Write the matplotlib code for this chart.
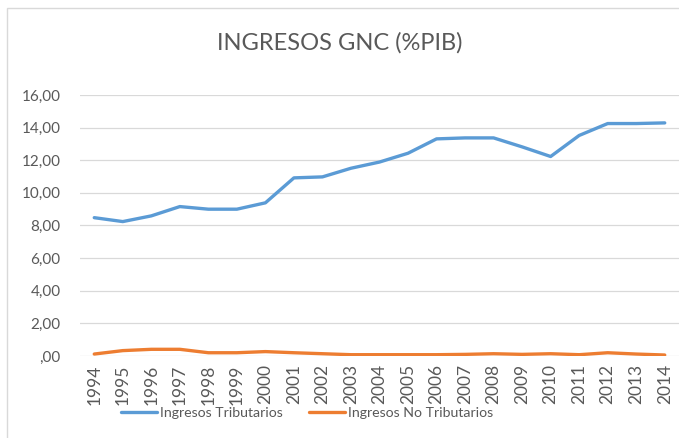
import matplotlib
matplotlib.use('Agg')
from matplotlib import pyplot as plt
from matplotlib.ticker import FuncFormatter
from matplotlib.patches import Rectangle

# Data (% of GDP)
years = ['1994', '1995', '1996', '1997', '1998', '1999', '2000', '2001', '2002', '2003', '2004',
         '2005', '2006', '2007', '2008', '2009', '2010', '2011', '2012', '2013', '2014']
tributarios = [8.48, 8.24, 8.59, 9.16, 9.00, 9.00, 9.39, 10.92, 10.98, 11.51, 11.89,
               12.43, 13.31, 13.37, 13.37, 12.82, 12.23, 13.52, 14.25, 14.25, 14.29]
no_tributarios = [0.12, 0.33, 0.41, 0.41, 0.20, 0.20, 0.27, 0.20, 0.14, 0.08, 0.08,
                  0.08, 0.08, 0.10, 0.14, 0.10, 0.14, 0.08, 0.20, 0.12, 0.06]
labels = ['Ingresos Tributarios', 'Ingresos No Tributarios']
colors = ['#5B9BD5', '#ED7D31']
text_color = '#595959'

plt.rcParams['font.family'] = ['Lato', 'DejaVu Sans']

fig = plt.figure(figsize=(6.79, 4.38), dpi=100)
ax = fig.add_axes([80 / 679, 1 - 356 / 438, 599 / 679, 261 / 438])

x = list(range(len(years)))
ax.plot(x, tributarios, color=colors[0], lw=2.4, label=labels[0], solid_capstyle='round')
ax.plot(x, no_tributarios, color=colors[1], lw=2.4, label=labels[1], solid_capstyle='round')

ax.set_xlim(-0.5, len(years) - 0.5)
ax.set_ylim(0, 16)
ax.set_yticks(range(0, 17, 2))
ax.set_xticks(x)
ax.set_xticklabels(years, rotation=90)


def fmt(v, pos):
    s = '{:.2f}'.format(v).replace('.', ',')
    if s.startswith('0,'):
        s = s[1:]
    return s


ax.yaxis.set_major_formatter(FuncFormatter(fmt))
ax.grid(axis='y', color='#D9D9D9', lw=0.9)
ax.set_axisbelow(True)
for s in ax.spines.values():
    s.set_visible(False)
ax.tick_params(axis='both', length=0, colors=text_color)
ax.tick_params(axis='y', pad=14, labelsize=11)
ax.tick_params(axis='x', pad=6, labelsize=12.5)

fig.text(340 / 679, 1 - 43 / 438, 'INGRESOS GNC (%PIB)', ha='center', va='center',
         fontsize=17, color=text_color)

fig.legend(loc='center', bbox_to_anchor=(307 / 679, 1 - 413 / 438), ncol=2, frameon=False,
           fontsize=10.2, labelcolor=text_color, handlelength=2.5, handletextpad=0.2,
           columnspacing=1.9)

# chart frame
fig.patches.append(Rectangle((7 / 679, -0.1), 1.2, 1 - 8 / 438 + 0.1, transform=fig.transFigure,
                             fill=False, edgecolor='#D9D9D9', lw=1))

plt.savefig('out.png', dpi=100)
plt.close()
